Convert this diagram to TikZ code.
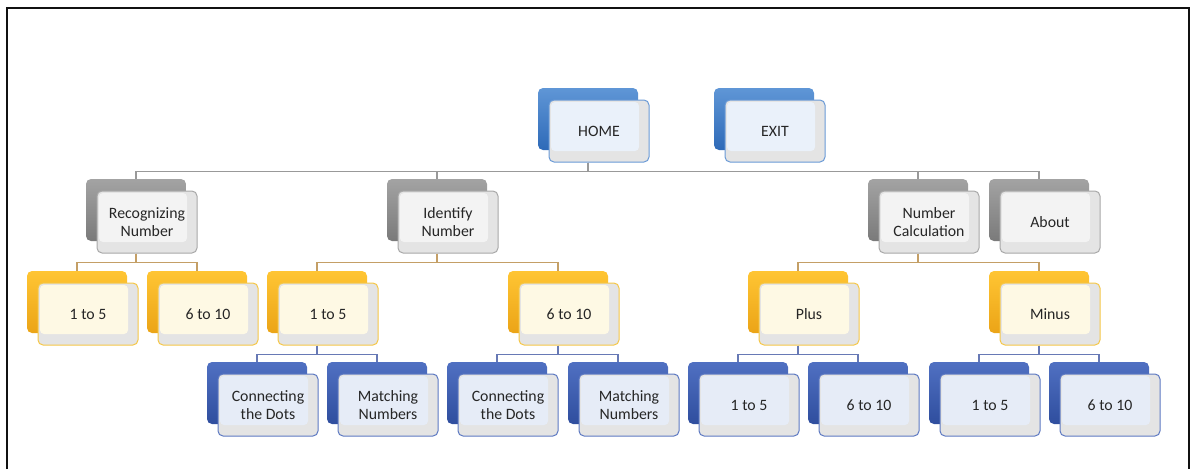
\documentclass[tikz,border=0pt]{standalone}
\usepackage{fontspec}
\setmainfont{Carlito}
\usetikzlibrary{shadows}
\definecolor{Ink}{HTML}{262626}
\definecolor{Frame}{HTML}{111111}
\definecolor{Face}{HTML}{E4E4E4}
\definecolor{SkyTop}{HTML}{5F96D6}
\definecolor{SkyBot}{HTML}{2E6AB8}
\definecolor{SkyLine}{HTML}{6A9AD6}
\definecolor{SkyIn}{HTML}{EAF1FA}
\definecolor{AshTop}{HTML}{A3A3A3}
\definecolor{AshBot}{HTML}{7A7A7A}
\definecolor{AshLine}{HTML}{A8A8A8}
\definecolor{AshIn}{HTML}{F3F3F3}
\definecolor{GoldTop}{HTML}{FFC533}
\definecolor{GoldBot}{HTML}{EBA417}
\definecolor{GoldLine}{HTML}{F5C748}
\definecolor{GoldIn}{HTML}{FEF9E4}
\definecolor{NavyTop}{HTML}{5070C2}
\definecolor{NavyBot}{HTML}{2F4E9E}
\definecolor{NavyLine}{HTML}{5D79C2}
\definecolor{NavyIn}{HTML}{E6ECF7}
\definecolor{AshLink}{HTML}{999999}
\definecolor{GoldLink}{HTML}{C49F66}
\definecolor{NavyLink}{HTML}{6779B5}
\tikzset{
  card/.style={draw=#1Line,fill=Face,line width=1pt,rounded corners=5pt,minimum width=100pt,minimum height=62pt,align=center,text=Ink,font=\fontsize{15.8}{18.3}\selectfont,
    general shadow={shadow xshift=-11pt,shadow yshift=12pt,top color=#1Top,bottom color=#1Bot,draw=none},
    path picture={\fill[#1In,rounded corners=4pt] ([shift={(2pt,-2pt)}]path picture bounding box.north west) rectangle ([shift={(-10pt,11pt)}]path picture bounding box.south east);}},
  homecard/.style={card=Sky},
  menucard/.style={card=Ash},
  subcard/.style={card=Gold},
  leafcard/.style={card=Navy},
  link/.style={draw=#1Link,line width=1.6pt}
}
\begin{document}
\begin{tikzpicture}[x=1pt,y=-1pt]
  \useasboundingbox (0,0) rectangle (1192,469);
  \draw[Frame,line width=2.4pt] (7,469) -- (7,8) -- (1189,8) -- (1189,469);
  % top row
  \node[homecard] (home) at (599,131) {HOME};
  \node[homecard] (exit) at (775,131) {EXIT};
  % menu row
  \node[menucard] (recog) at (147,222) {Recognizing\\Number};
  \node[menucard] (ident) at (448,222) {Identify\\Number};
  \node[menucard] (calc) at (929,222) {Number\\Calculation};
  \node[menucard] (about) at (1050,222) {About};
  % sub row
  \node[subcard] (recfive) at (88,314) {1 to 5};
  \node[subcard] (recten) at (208,314) {6 to 10};
  \node[subcard] (idfive) at (328,314) {1 to 5};
  \node[subcard] (idten) at (569,314) {6 to 10};
  \node[subcard] (plus) at (809,314) {Plus};
  \node[subcard] (minus) at (1050,314) {Minus};
  % leaf row
  \node[leafcard] (dotsfive) at (268,405) {Connecting\\the Dots};
  \node[leafcard] (matchfive) at (388,405) {Matching\\Numbers};
  \node[leafcard] (dotsten) at (508,405) {Connecting\\the Dots};
  \node[leafcard] (matchten) at (629,405) {Matching\\Numbers};
  \node[leafcard] (plusfive) at (749,405) {1 to 5};
  \node[leafcard] (plusten) at (869,405) {6 to 10};
  \node[leafcard] (minusfive) at (990,405) {1 to 5};
  \node[leafcard] (minusten) at (1110,405) {6 to 10};
  % connectors
  \draw[link=Ash] ([xshift=-11pt]home.south) -- ++(0,9) -| ([shift={(-11pt,12pt)}]recog.north);
  \draw[link=Ash] ([xshift=-11pt]home.south) -- ++(0,9) -| ([shift={(-11pt,12pt)}]ident.north);
  \draw[link=Ash] ([xshift=-11pt]home.south) -- ++(0,9) -| ([shift={(-11pt,12pt)}]calc.north);
  \draw[link=Ash] ([xshift=-11pt]home.south) -- ++(0,9) -| ([shift={(-11pt,12pt)}]about.north);
  \draw[link=Gold] ([xshift=-11pt]recog.south) -- ++(0,9) -| ([shift={(-11pt,12pt)}]recfive.north);
  \draw[link=Gold] ([xshift=-11pt]recog.south) -- ++(0,9) -| ([shift={(-11pt,12pt)}]recten.north);
  \draw[link=Gold] ([xshift=-11pt]ident.south) -- ++(0,9) -| ([shift={(-11pt,12pt)}]idfive.north);
  \draw[link=Gold] ([xshift=-11pt]ident.south) -- ++(0,9) -| ([shift={(-11pt,12pt)}]idten.north);
  \draw[link=Gold] ([xshift=-11pt]calc.south) -- ++(0,9) -| ([shift={(-11pt,12pt)}]plus.north);
  \draw[link=Gold] ([xshift=-11pt]calc.south) -- ++(0,9) -| ([shift={(-11pt,12pt)}]minus.north);
  \draw[link=Navy] ([xshift=-11pt]idfive.south) -- ++(0,9) -| ([shift={(-11pt,12pt)}]dotsfive.north);
  \draw[link=Navy] ([xshift=-11pt]idfive.south) -- ++(0,9) -| ([shift={(-11pt,12pt)}]matchfive.north);
  \draw[link=Navy] ([xshift=-11pt]idten.south) -- ++(0,9) -| ([shift={(-11pt,12pt)}]dotsten.north);
  \draw[link=Navy] ([xshift=-11pt]idten.south) -- ++(0,9) -| ([shift={(-11pt,12pt)}]matchten.north);
  \draw[link=Navy] ([xshift=-11pt]plus.south) -- ++(0,9) -| ([shift={(-11pt,12pt)}]plusfive.north);
  \draw[link=Navy] ([xshift=-11pt]plus.south) -- ++(0,9) -| ([shift={(-11pt,12pt)}]plusten.north);
  \draw[link=Navy] ([xshift=-11pt]minus.south) -- ++(0,9) -| ([shift={(-11pt,12pt)}]minusfive.north);
  \draw[link=Navy] ([xshift=-11pt]minus.south) -- ++(0,9) -| ([shift={(-11pt,12pt)}]minusten.north);
\end{tikzpicture}
\end{document}
